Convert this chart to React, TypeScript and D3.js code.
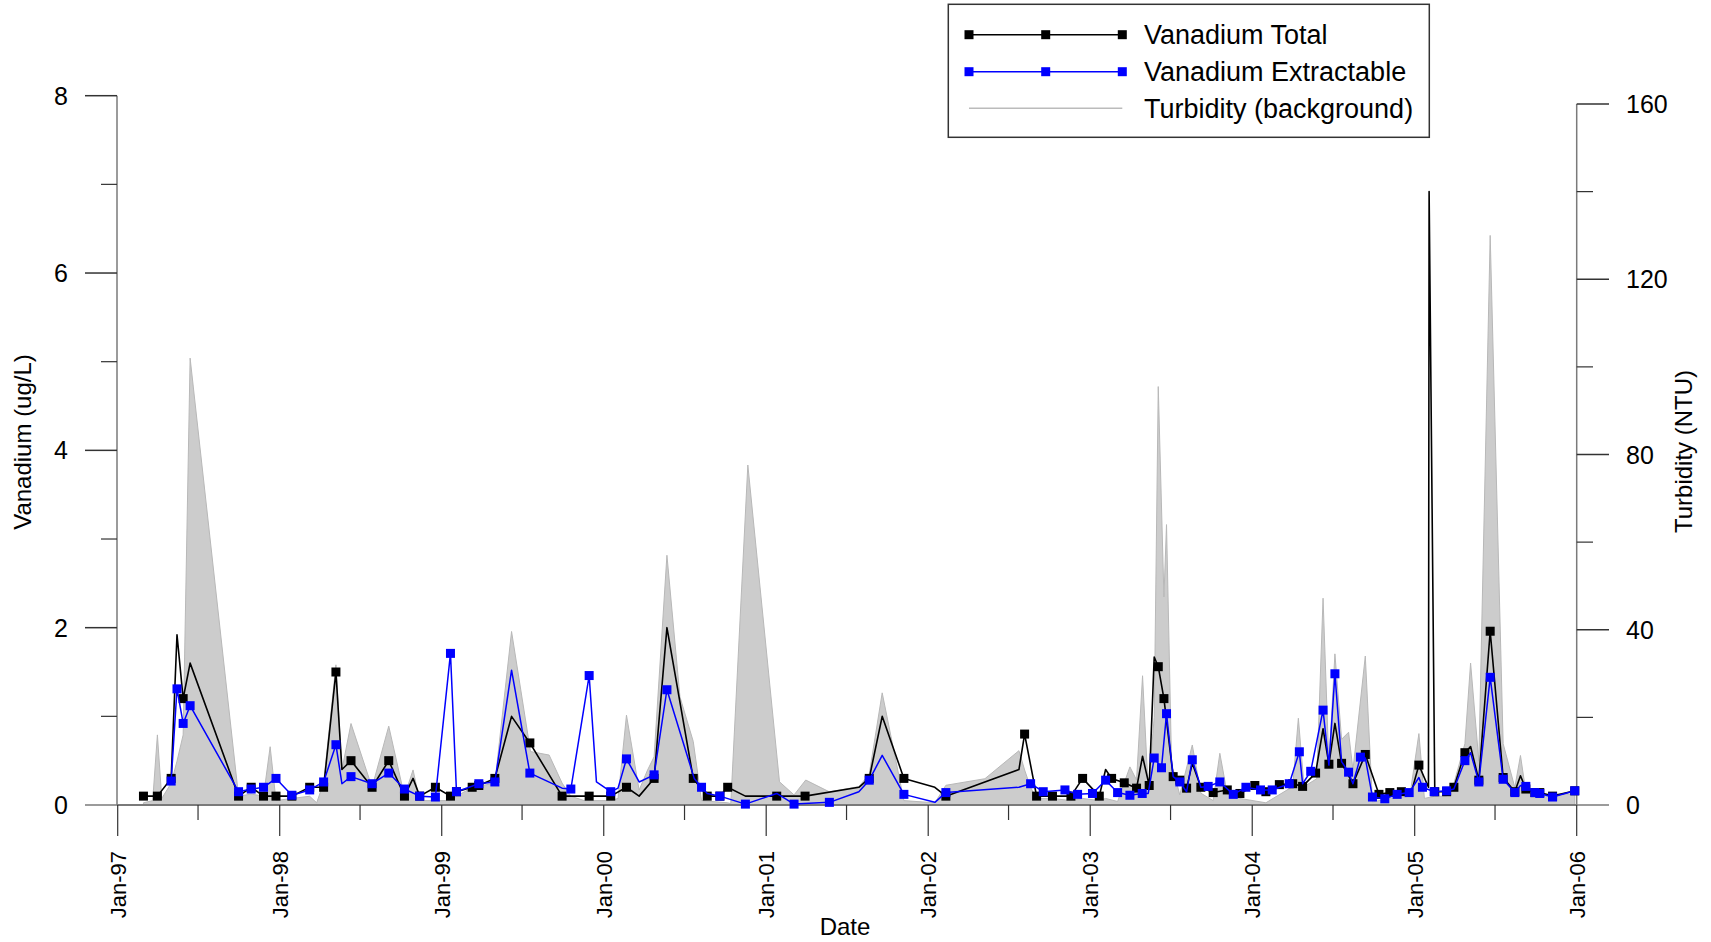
import React from "react";
import * as d3 from "d3";

// ---- data (decimal year, value, marker shown 1/0) ----
const vanadiumTotal: [number, number, number][] = [
  [1997.159,0.10,1],[1997.245,0.10,1],[1997.330,0.30,1],[1997.366,1.92,0],[1997.404,1.20,1],[1997.447,1.60,0],
  [1997.746,0.10,1],[1997.824,0.20,1],[1997.900,0.10,1],[1997.977,0.10,1],[1998.075,0.10,1],[1998.185,0.20,1],
  [1998.271,0.20,1],[1998.347,1.50,1],[1998.384,0.40,0],[1998.440,0.50,1],[1998.570,0.20,1],[1998.673,0.50,1],
  [1998.770,0.10,1],[1998.823,0.30,0],[1998.864,0.10,1],[1998.961,0.20,1],[1999.054,0.10,1],[1999.091,0.15,1],
  [1999.188,0.20,1],[1999.229,0.22,1],[1999.328,0.30,1],[1999.431,1.00,0],[1999.544,0.70,1],[1999.743,0.10,1],
  [1999.910,0.10,1],[2000.043,0.10,1],[2000.140,0.20,1],[2000.218,0.10,0],[2000.310,0.30,1],[2000.389,2.00,0],
  [2000.551,0.30,1],[2000.637,0.10,1],[2000.715,0.10,1],[2000.763,0.20,1],[2000.872,0.10,0],[2001.065,0.10,1],
  [2001.240,0.10,1],[2001.572,0.20,0],[2001.636,0.30,1],[2001.716,1.00,0],[2001.850,0.30,1],[2002.041,0.20,0],
  [2002.109,0.10,1],[2002.560,0.40,0],[2002.595,0.80,1],[2002.669,0.10,1],[2002.767,0.10,1],[2002.881,0.10,1],
  [2002.953,0.30,1],[2003.056,0.10,1],[2003.095,0.40,0],[2003.132,0.30,1],[2003.210,0.25,1],[2003.286,0.19,1],
  [2003.323,0.55,0],[2003.364,0.22,1],[2003.395,1.67,0],[2003.420,1.56,1],[2003.455,1.20,1],[2003.512,0.32,1],
  [2003.553,0.28,1],[2003.595,0.19,1],[2003.630,0.47,0],[2003.683,0.20,1],[2003.759,0.14,1],[2003.846,0.17,1],
  [2003.924,0.13,1],[2004.016,0.22,1],[2004.084,0.15,1],[2004.167,0.23,1],[2004.249,0.24,1],[2004.310,0.21,1],
  [2004.390,0.36,1],[2004.436,0.86,0],[2004.472,0.46,1],[2004.509,0.92,0],[2004.550,0.47,1],[2004.620,0.24,1],
  [2004.696,0.57,1],[2004.780,0.12,1],[2004.847,0.14,1],[2004.918,0.15,1],[2004.980,0.15,0],[2005.026,0.45,1],
  [2005.085,0.20,0],[2005.089,6.92,0],[2005.124,0.15,1],[2005.197,0.15,1],
  [2005.242,0.20,1],[2005.310,0.59,1],[2005.345,0.66,0],[2005.396,0.28,1],[2005.466,1.96,1],[2005.546,0.31,1],
  [2005.618,0.15,1],[2005.653,0.33,0],[2005.686,0.18,1],[2005.742,0.14,1],[2005.772,0.14,1],[2005.851,0.10,1],
  [2005.988,0.16,1],
];

const vanadiumExtractable: [number, number, number][] = [
  [1997.330,0.27,1],[1997.366,1.31,1],[1997.404,0.92,1],[1997.447,1.12,1],[1997.746,0.15,1],[1997.824,0.18,1],
  [1997.900,0.20,1],[1997.977,0.30,1],[1998.075,0.11,1],[1998.185,0.17,1],[1998.271,0.26,1],[1998.347,0.68,1],
  [1998.384,0.24,0],[1998.440,0.32,1],[1998.570,0.24,1],[1998.673,0.36,1],[1998.770,0.18,1],[1998.864,0.10,1],
  [1998.961,0.09,1],[1999.054,1.71,1],[1999.091,0.15,1],[1999.229,0.24,1],[1999.328,0.26,1],[1999.431,1.52,0],
  [1999.544,0.36,1],[1999.743,0.19,0],[1999.797,0.18,1],[1999.910,1.46,1],[1999.955,0.26,0],[2000.043,0.15,1],
  [2000.088,0.19,0],[2000.140,0.52,1],[2000.218,0.26,0],[2000.310,0.34,1],[2000.389,1.30,1],[2000.557,0.30,0],
  [2000.602,0.20,1],[2000.637,0.13,0],[2000.715,0.10,1],[2000.872,0.01,1],[2001.065,0.13,0],[2001.172,0.01,1],
  [2001.390,0.03,1],[2001.572,0.15,0],[2001.636,0.28,1],[2001.716,0.56,0],[2001.850,0.12,1],[2002.041,0.03,0],
  [2002.109,0.14,1],[2002.560,0.20,0],[2002.632,0.24,1],[2002.710,0.15,1],[2002.844,0.17,1],[2002.922,0.12,1],
  [2003.014,0.13,1],[2003.095,0.28,1],[2003.169,0.14,1],[2003.245,0.11,1],[2003.321,0.13,1],[2003.358,0.13,0],
  [2003.395,0.53,1],[2003.440,0.42,1],[2003.471,1.03,1],[2003.512,0.32,0],[2003.553,0.26,1],[2003.595,0.15,0],
  [2003.630,0.51,1],[2003.683,0.20,0],[2003.728,0.21,1],[2003.800,0.26,1],[2003.883,0.12,1],[2003.961,0.20,1],
  [2004.051,0.17,1],[2004.123,0.17,1],[2004.228,0.24,1],[2004.290,0.60,1],[2004.310,0.24,0],[2004.360,0.38,1],
  [2004.436,1.07,1],[2004.472,0.45,0],[2004.509,1.48,1],[2004.550,0.49,0],[2004.593,0.37,1],[2004.620,0.24,0],
  [2004.666,0.54,1],[2004.696,0.53,0],[2004.740,0.09,1],[2004.816,0.07,1],[2004.892,0.12,1],[2004.966,0.14,1],
  [2005.026,0.31,0],[2005.048,0.20,1],[2005.120,0.15,1],[2005.197,0.16,1],[2005.242,0.18,0],[2005.310,0.50,1],
  [2005.345,0.59,0],[2005.396,0.26,1],[2005.466,1.44,1],[2005.546,0.29,1],[2005.618,0.14,1],[2005.653,0.22,0],
  [2005.686,0.21,1],[2005.742,0.14,1],[2005.772,0.13,1],[2005.851,0.09,1],[2005.988,0.16,1],
];

const turbidity: [number, number][] = [
  [1997.159,0.5],[1997.216,1],[1997.245,16],[1997.272,1.5],[1997.330,5],[1997.366,10],[1997.404,16],[1997.447,102],
  [1997.746,2],[1997.824,2.5],[1997.900,2],[1997.941,13.3],[1997.977,1],[1998.075,1.5],[1998.185,2],[1998.228,0.5],
  [1998.271,5],[1998.347,32],[1998.384,8],[1998.440,18.6],[1998.570,4],[1998.673,18],[1998.770,2],[1998.823,8],
  [1998.864,1],[1998.961,1],[1999.054,1],[1999.091,2],[1999.188,4],[1999.328,5],[1999.431,39.6],[1999.548,12.2],
  [1999.663,11.4],[1999.743,5],[1999.797,2],[1999.880,1],[2000.043,1],[2000.088,1.5],[2000.140,20.5],[2000.218,3.4],
  [2000.270,8],[2000.310,11],[2000.389,57],[2000.469,24.7],[2000.551,14.5],[2000.602,1],[2000.763,0.5],[2000.782,0.3],
  [2000.887,77.6],[2001.082,5.3],[2001.172,2.3],[2001.244,5.7],[2001.390,3],[2001.572,4.2],[2001.636,7],[2001.716,25.6],
  [2001.850,1],[2002.041,0.5],[2002.109,4.5],[2002.350,6],[2002.560,12.4],[2002.595,8],[2002.632,4],[2002.669,1.5],
  [2002.767,1.5],[2002.881,1],[2002.953,1.5],[2003.056,1],[2003.095,1.5],[2003.169,0.8],[2003.245,8.7],[2003.286,5.7],
  [2003.323,29.5],[2003.358,3.4],[2003.395,20],[2003.420,95.5],[2003.455,47.5],[2003.471,64],[2003.502,9.5],[2003.553,2.3],
  [2003.630,13.7],[2003.683,2.7],[2003.759,1],[2003.800,11.8],[2003.846,2.5],[2003.924,1.5],[2004.084,0.5],[2004.249,4.2],
  [2004.284,19.8],[2004.319,4.2],[2004.397,6],[2004.436,47.2],[2004.472,9.2],[2004.509,34.5],[2004.550,15],[2004.593,16.6],
  [2004.620,8],[2004.696,34],[2004.740,0.7],[2004.850,1.5],[2004.970,2],[2005.026,16.3],[2005.060,1.5],[2005.124,2],
  [2005.197,2],[2005.242,4.9],[2005.310,14],[2005.345,32.4],[2005.396,10],[2005.466,130],[2005.546,14],[2005.618,4],
  [2005.653,11.3],[2005.686,3],[2005.742,2.5],[2005.988,2.5],
];

const leftTicks = [0, 2, 4, 6, 8];
const leftMinor = [1, 3, 5, 7];
const rightTicks = [0, 40, 80, 120, 160];
const rightMinor = [20, 60, 100, 140];
const yearTicks = [1997, 1998, 1999, 2000, 2001, 2002, 2003, 2004, 2005, 2006];
const legendItems = ["Vanadium Total", "Vanadium Extractable", "Turbidity (background)"];

const FONT = "'Liberation Sans', Arial, Helvetica, sans-serif";

function toDate(y: number): Date {
  const yr = Math.floor(y);
  const s = new Date(yr, 0, 1).getTime();
  const e = new Date(yr + 1, 0, 1).getTime();
  return new Date(s + (y - yr) * (e - s));
}

export default function App() {
  const W = 1711, H = 942;
  const x = d3.scaleTime().domain([new Date(1997, 0, 1), new Date(2006, 0, 1)]).range([117.7, 1576.7]);
  const yL = d3.scaleLinear().domain([0, 8]).range([805, 95.7]);
  const yR = d3.scaleLinear().domain([0, 160]).range([805, 104]);

  const area = d3.area<[number, number]>()
    .x(d => x(toDate(d[0])))
    .y0(yR(0))
    .y1(d => yR(d[1]));
  const line = d3.line<[number, number, number]>()
    .x(d => x(toDate(d[0])))
    .y(d => yL(d[1]));

  const MS = 9;
  const markers = (data: [number, number, number][], color: string) =>
    data.filter(d => d[2]).map((d, i) => (
      <rect key={i} x={x(toDate(d[0])) - MS / 2} y={yL(d[1]) - MS / 2} width={MS} height={MS} fill={color} />
    ));

  const minorDates: Date[] = [];
  for (let yr = 1997; yr < 2006; yr++) minorDates.push(new Date(yr, 6, 1));

  const axisColor = "#7a7a7a";
  const tickColor = "#333";

  const lx = [969, 1045.7, 1122.3];
  const ly = [34.7, 71.7, 108.3];

  return (
    <svg width={W} height={H} style={{ position: "absolute", left: 0, top: 0, background: "#fff" }} fontFamily={FONT}>
      <rect x={0} y={0} width={W} height={H} fill="#fff" />
      {/* turbidity background */}
      <path d={area(turbidity) || ""} fill="#cccccc" stroke="#b8b8b8" strokeWidth={1} />
      {/* axes */}
      <line x1={117} x2={117} y1={95.7} y2={805} stroke={axisColor} strokeWidth={1.5} />
      <line x1={1576.7} x2={1576.7} y1={104} y2={805} stroke={axisColor} strokeWidth={1.5} />
      {leftTicks.map(t => (
        <g key={"l" + t}>
          <line x1={85} x2={117} y1={yL(t)} y2={yL(t)} stroke={t === 0 ? axisColor : tickColor} strokeWidth={1.5} />
          <text x={68} y={yL(t) + 9} fontSize={25} textAnchor="end" fill="#000">{t}</text>
        </g>
      ))}
      {leftMinor.map(t => (
        <line key={"lm" + t} x1={101} x2={117} y1={yL(t)} y2={yL(t)} stroke={tickColor} strokeWidth={1.2} />
      ))}
      {rightTicks.map(t => (
        <g key={"r" + t}>
          <line x1={1576.7} x2={1609} y1={yR(t)} y2={yR(t)} stroke={t === 0 ? axisColor : tickColor} strokeWidth={1.5} />
          <text x={1626} y={yR(t) + 9} fontSize={25} textAnchor="start" fill="#000">{t}</text>
        </g>
      ))}
      {rightMinor.map(t => (
        <line key={"rm" + t} x1={1576.7} x2={1593} y1={yR(t)} y2={yR(t)} stroke={tickColor} strokeWidth={1.2} />
      ))}
      <line x1={117} x2={1576.7} y1={805} y2={805} stroke={axisColor} strokeWidth={2} />
      {yearTicks.map(yr => {
        const px = x(new Date(yr, 0, 1));
        return (
          <g key={"x" + yr}>
            <line x1={px} x2={px} y1={805} y2={836} stroke={tickColor} strokeWidth={1.2} />
            <text transform={`translate(${px + 8},851) rotate(-90)`} fontSize={22} textAnchor="end" fill="#000">
              {"Jan-" + String(yr).slice(2)}
            </text>
          </g>
        );
      })}
      {minorDates.map((d, i) => (
        <line key={"xm" + i} x1={x(d)} x2={x(d)} y1={805} y2={820} stroke={tickColor} strokeWidth={1.2} />
      ))}
      {/* series */}
      <path d={line(vanadiumTotal) || ""} fill="none" stroke="#000" strokeWidth={1.6} strokeLinejoin="round" />
      {markers(vanadiumTotal, "#000")}
      <path d={line(vanadiumExtractable) || ""} fill="none" stroke="#0000ff" strokeWidth={1.5} strokeLinejoin="round" />
      {markers(vanadiumExtractable, "#0000ff")}
      {/* axis titles */}
      <text transform="translate(31,442) rotate(-90)" fontSize={24} textAnchor="middle" fill="#000">Vanadium (ug/L)</text>
      <text transform="translate(1692,451.5) rotate(-90)" fontSize={24} textAnchor="middle" fill="#000">Turbidity (NTU)</text>
      <text x={845} y={935} fontSize={24} textAnchor="middle" fill="#000">Date</text>
      {/* legend */}
      <rect x={948.3} y={4.3} width={481} height={133} fill="#fff" stroke="#333" strokeWidth={1.5} />
      <line x1={lx[0]} x2={lx[2]} y1={ly[0]} y2={ly[0]} stroke="#000" strokeWidth={1.6} />
      {lx.map((px, i) => <rect key={"lb" + i} x={px - 4.5} y={ly[0] - 4.5} width={9} height={9} fill="#000" />)}
      <line x1={lx[0]} x2={lx[2]} y1={ly[1]} y2={ly[1]} stroke="#0000ff" strokeWidth={1.5} />
      {lx.map((px, i) => <rect key={"lbl" + i} x={px - 4.5} y={ly[1] - 4.5} width={9} height={9} fill="#0000ff" />)}
      <line x1={lx[0]} x2={lx[2]} y1={ly[2]} y2={ly[2]} stroke="#bbbbbb" strokeWidth={1.5} />
      {legendItems.map((t, i) => (
        <text key={t} x={1144} y={ly[i] + 9.5} fontSize={27} fill="#000">{t}</text>
      ))}
    </svg>
  );
}
